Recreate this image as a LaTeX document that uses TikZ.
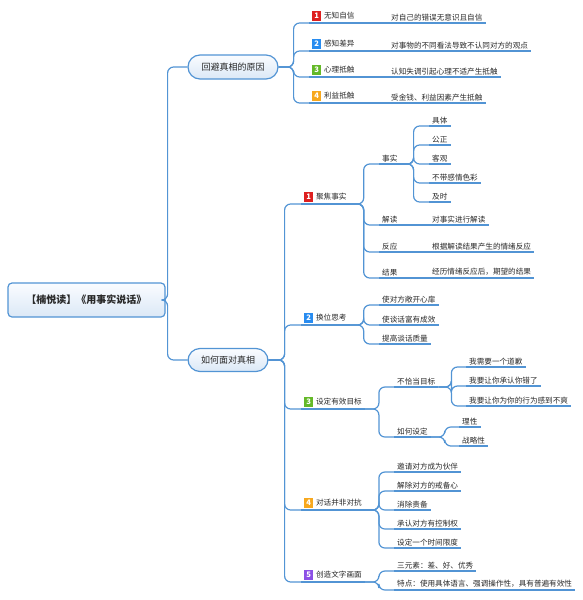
\documentclass[tikz,border=0pt]{standalone}
\usepackage{fontspec}
\setmainfont{Noto Sans CJK SC}
\definecolor{lineb}{RGB}{82,148,212}
\definecolor{boxtop}{RGB}{250,252,255}
\definecolor{boxbot}{RGB}{219,232,246}
\definecolor{txt}{RGB}{40,40,40}
\definecolor{pone}{RGB}{222,32,32}
\definecolor{ptwo}{RGB}{40,140,240}
\definecolor{pthree}{RGB}{100,185,40}
\definecolor{pfour}{RGB}{247,168,30}
\definecolor{pfive}{RGB}{140,80,230}
\newcommand\pbadge[2]{{\setlength\fboxsep{1.2pt}\colorbox{#1}{\makebox[6.5pt]{\rule[-1pt]{0pt}{7pt}\textcolor{white}{\bfseries #2}}}}\hspace{3pt}}
\tikzset{
  link/.style={draw=lineb, line width=1.2pt, rounded corners=6pt},
  topic/.style={anchor=south west, inner xsep=3pt, inner ysep=2pt, text=txt, font=\fontsize{7.6}{9}\selectfont,
    append after command={\pgfextra{\let\ulnd\tikzlastnode} (\ulnd.south west) edge[link] (\ulnd.south east)}},
  mainbox/.style={draw=lineb, line width=1.2pt, top color=boxtop, bottom color=boxbot, rounded corners=12pt,
    text=txt, font=\fontsize{9}{10}\selectfont, inner sep=0pt},
}

\begin{document}
\begin{tikzpicture}[x=1pt, y=-1pt]
    \useasboundingbox (0,0) rectangle (583,600);
    \node[mainbox, rounded corners=4pt, minimum width=157pt, minimum height=34pt, font=\bfseries\fontsize{10}{12}\selectfont] (root) at (86.5,300) {【楠悦读】《用事实说话》};
    \node[mainbox, minimum width=90pt, minimum height=24pt] (avoid) at (233,67) {回避真相的原因};
    \node[mainbox, minimum width=80pt, minimum height=23pt] (face) at (228,360) {如何面对真相};
    \draw[link] (root.east) -- ++(2,0) |- (avoid.west);
    \draw[link] (root.east) -- ++(2,0) |- (face.west);

    \node[topic] (a1) at (309,23) {\pbadge{pone}{1}无知自信};
    \node[topic] (a2) at (309,51) {\pbadge{ptwo}{2}感知差异};
    \node[topic] (a3) at (309,77) {\pbadge{pthree}{3}心理抵触};
    \node[topic] (a4) at (309,103) {\pbadge{pfour}{4}利益抵触};
    \node[topic] (a1-t) at (388,23) {对自己的错误无意识且自信};
    \node[topic] (a2-t) at (388,51) {对事物的不同看法导致不认同对方的观点};
    \node[topic] (a3-t) at (388,77) {认知失调引起心理不适产生抵触};
    \node[topic] (a4-t) at (388,103) {受金钱、利益因素产生抵触};
    \foreach \c in {a1,a2,a3,a4}
        {\draw[link] (avoid.east) -- ++(15,0) |- (\c.south west);
         \draw[link] (\c.south east) -- (\c-t.south west);}

    \node[topic] (f1) at (301,204) {\pbadge{pone}{1}聚焦事实};
    \node[topic] (f2) at (301,325) {\pbadge{ptwo}{2}换位思考};
    \node[topic] (f3) at (301,409) {\pbadge{pthree}{3}设定有效目标};
    \node[topic] (f4) at (301,510) {\pbadge{pfour}{4}对话并非对抗};
    \node[topic] (f5) at (301,582) {\pbadge{pfive}{5}创造文字画面};
    \foreach \c in {f1,f2,f3,f4,f5}
        \draw[link] (face.east) -- ++(16,0) |- (\c.south west);

    \node[topic] (fact) at (379,164) {事实};
    \node[topic] (read) at (379,225) {解读};
    \node[topic] (react) at (379,252) {反应};
    \node[topic] (result) at (379,278) {结果};
    \foreach \c in {fact,read,react,result}
        \draw[link] (f1.south east) -- ++(14,0) |- (\c.south west);
    \node[topic] (fact1) at (429,126) {具体};
    \node[topic] (fact2) at (429,145) {公正};
    \node[topic] (fact3) at (429,164) {客观};
    \node[topic] (fact4) at (429,183) {不带感情色彩};
    \node[topic] (fact5) at (429,202) {及时};
    \foreach \c in {fact1,fact2,fact3,fact4,fact5}
        \draw[link] (fact.south east) -- ++(13,0) |- (\c.south west);
    \node[topic] (read-t) at (429,225) {对事实进行解读};
    \node[topic] (react-t) at (429,252) {根据解读结果产生的情绪反应};
    \node[topic] (result-t) at (429,278) {经历情绪反应后，期望的结果};
    \foreach \c in {read,react,result}
        \draw[link] (\c.south east) -- (\c-t.south west);

    \node[topic] (swap1) at (379,305) {使对方敞开心扉};
    \node[topic] (swap2) at (379,325) {使谈话富有成效};
    \node[topic] (swap3) at (379,344) {提高谈话质量};
    \foreach \c in {swap1,swap2,swap3}
        \draw[link] (f2.south east) -- ++(14,0) |- (\c.south west);

    \node[topic] (bad) at (394,387) {不恰当目标};
    \node[topic] (how) at (394,437) {如何设定};
    \foreach \c in {bad,how}
        \draw[link] (f3.south east) -- ++(14,0) |- (\c.south west);
    \node[topic] (bad1) at (466,367) {我需要一个道歉};
    \node[topic] (bad2) at (466,386) {我要让你承认你错了};
    \node[topic] (bad3) at (466,406) {我要让你为你的行为感到不爽};
    \foreach \c in {bad1,bad2,bad3}
        \draw[link] (bad.south east) -- ++(13,0) |- (\c.south west);
    \node[topic] (how1) at (459,427) {理性};
    \node[topic] (how2) at (459,446) {战略性};
    \foreach \c in {how1,how2}
        \draw[link] (how.south east) -- ++(14,0) |- (\c.south west);

    \node[topic] (talk1) at (394,472) {邀请对方成为伙伴};
    \node[topic] (talk2) at (394,491) {解除对方的戒备心};
    \node[topic] (talk3) at (394,510) {消除责备};
    \node[topic] (talk4) at (394,529) {承认对方有控制权};
    \node[topic] (talk5) at (394,548) {设定一个时间限度};
    \foreach \c in {talk1,talk2,talk3,talk4,talk5}
        \draw[link] (f4.south east) -- ++(14,0) |- (\c.south west);

    \node[topic] (pic1) at (394,571) {三元素：差、好、优秀};
    \node[topic] (pic2) at (394,590) {特点：使用具体语言、强调操作性，具有普遍有效性};
    \foreach \c in {pic1,pic2}
        \draw[link] (f5.south east) -- ++(14,0) |- (\c.south west);
\end{tikzpicture}
\end{document}
